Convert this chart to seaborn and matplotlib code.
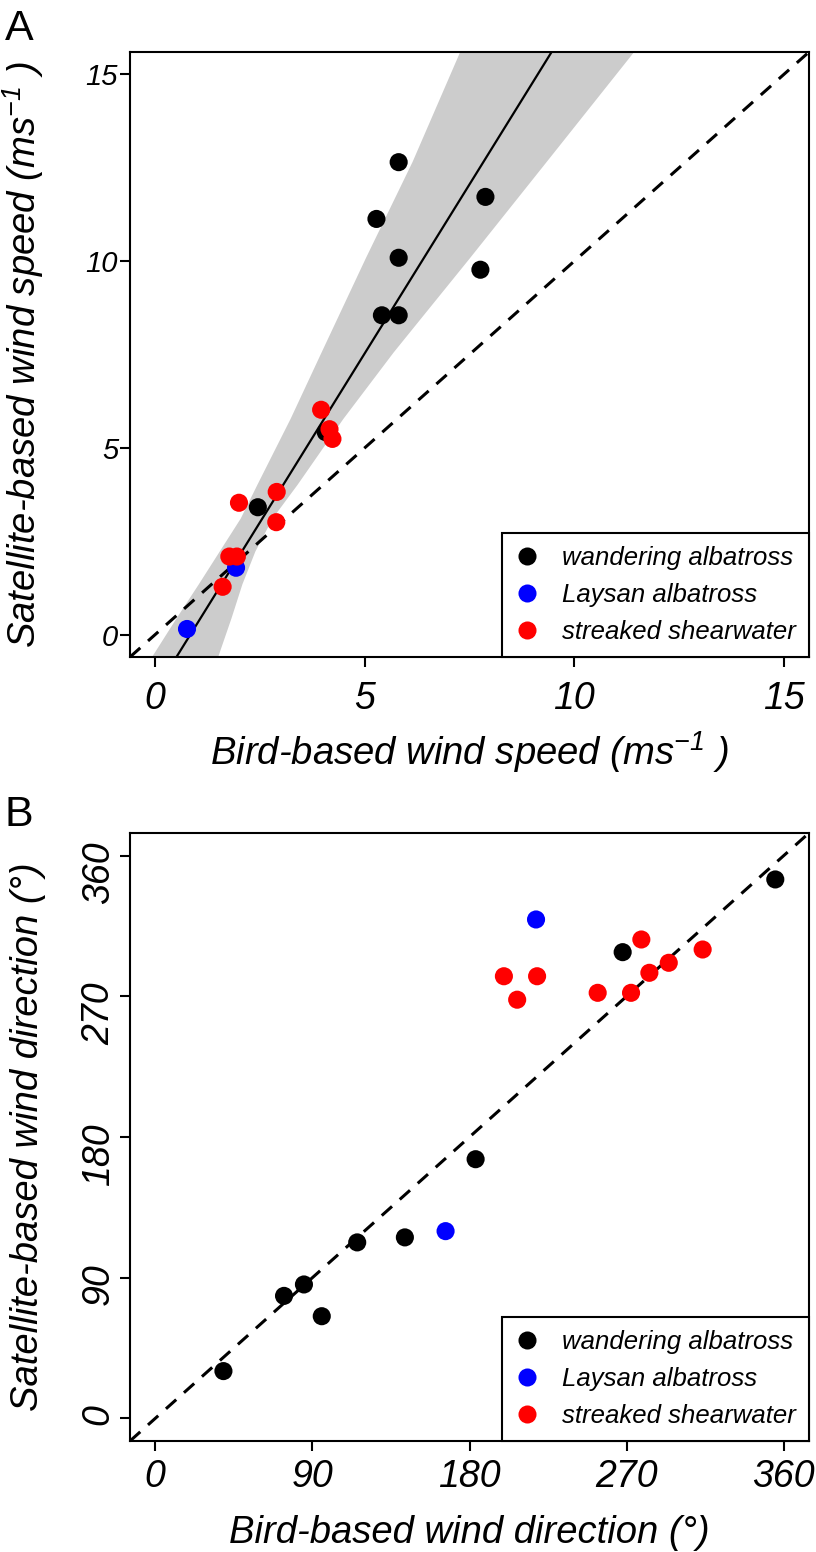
import numpy as np
import pandas as pd
import matplotlib
matplotlib.use('Agg')
import matplotlib.pyplot as plt
from matplotlib.lines import Line2D
import seaborn as sns

species_order = ['wandering albatross', 'Laysan albatross', 'streaked shearwater']
species_colors = ['#000000', '#0000FF', '#FF0000']

# Panel A: wind speed (m/s), bird-based vs satellite-based
speed_bird_wa = [5.81, 5.28, 7.88, 5.81, 7.76, 5.41, 5.81, 2.45, 4.07]
speed_sat_wa = [12.65, 11.13, 11.72, 10.09, 9.77, 8.55, 8.55, 3.41, 5.42]
speed_bird_la = [1.93, 0.76]
speed_sat_la = [1.79, 0.15]
speed_bird_ss = [3.96, 4.16, 4.23, 2.90, 2.00, 2.89, 1.77, 1.95, 1.61]
speed_sat_ss = [6.02, 5.50, 5.24, 3.82, 3.53, 3.01, 2.09, 2.09, 1.28]

# fitted line and its confidence band
fit_x = [0.0, 10.0]
fit_y = [-1.52, 16.58]
band_y = [15.84, 15.52, 12.67, 10.08, 7.57, 5.79, 4.03, 3.12, 2.24, 1.36, 0.45, -0.56, -0.83]
band_left = [7.35, 7.23, 6.13, 5.01, 3.96, 3.22, 2.43, 2.03, 1.53, 1.03, 0.50, -0.07, -0.24]
band_right = [11.57, 11.35, 9.33, 7.49, 5.68, 4.48, 3.39, 2.79, 2.38, 2.07, 1.81, 1.50, 1.43]

# Panel B: wind direction (degrees)
dir_bird_wa = [355.1, 267.7, 183.5, 143.0, 115.7, 85.2, 73.8, 95.4, 39.1]
dir_sat_wa = [344.7, 298.2, 165.8, 115.8, 112.6, 85.7, 78.4, 65.4, 30.3]
dir_bird_la = [218.1, 166.3]
dir_sat_la = [319.1, 119.8]
dir_bird_ss = [199.7, 218.7, 207.3, 278.4, 313.5, 294.1, 283.0, 253.4, 272.5]
dir_sat_ss = [282.8, 282.8, 267.8, 306.3, 299.9, 291.4, 285.0, 272.2, 272.2]

speed_ticks = [0, 5, 10, 15]
dir_ticks = [0, 90, 180, 270, 360]


def make_frame(groups):
    rows = []
    for name, xs, ys in groups:
        for x, y in zip(xs, ys):
            rows.append({'bird': x, 'sat': y, 'species': name})
    return pd.DataFrame(rows)


df_speed = make_frame([
    (species_order[0], speed_bird_wa, speed_sat_wa),
    (species_order[1], speed_bird_la, speed_sat_la),
    (species_order[2], speed_bird_ss, speed_sat_ss),
])
df_dir = make_frame([
    (species_order[0], dir_bird_wa, dir_sat_wa),
    (species_order[1], dir_bird_la, dir_sat_la),
    (species_order[2], dir_bird_ss, dir_sat_ss),
])

sns.set_theme(style='ticks')
plt.rcParams['font.family'] = ['Liberation Sans', 'DejaVu Sans']
plt.rcParams['font.style'] = 'italic'
plt.rcParams['mathtext.fontset'] = 'custom'
plt.rcParams['mathtext.rm'] = 'Liberation Sans:italic'
plt.rcParams['mathtext.it'] = 'Liberation Sans:italic'
for key in ['text.color', 'axes.labelcolor', 'xtick.color', 'ytick.color', 'axes.edgecolor']:
    plt.rcParams[key] = 'black'

W, H = 816, 1552
fig = plt.figure(figsize=(W / 100, H / 100), dpi=100)
axA = fig.add_axes([130 / W, 1 - 657 / H, 679 / W, 605 / H])
axB = fig.add_axes([130 / W, 1 - 1441 / H, 679 / W, 608 / H])

palette = dict(zip(species_order, species_colors))


def style_axes(ax, lim, ticks):
    ax.set_xlim(lim)
    ax.set_ylim(lim)
    ax.set_xticks(ticks)
    ax.set_yticks(ticks)
    for sp in ax.spines.values():
        sp.set_visible(True)
        sp.set_color('black')
        sp.set_linewidth(1.5)
    ax.tick_params(axis='both', direction='out', length=7.5, width=1.5, color='black')
    ax.axline((0, 0), slope=1, color='black', lw=2.2, dashes=(4.5, 3.4), zorder=2)
    handles = [Line2D([], [], marker='o', ls='none', markersize=13,
                      markerfacecolor=c, markeredgecolor='none') for c in species_colors]
    leg = ax.legend(handles, species_order, loc='lower right', borderaxespad=0,
                    frameon=True, fancybox=False, edgecolor='black', framealpha=1,
                    fontsize=18.5, handlelength=1.0, handletextpad=0.86,
                    labelspacing=0.51, borderpad=0.5)
    leg.get_frame().set_linewidth(1.5)


# ---- Panel A
speed_lim = (-0.6, 15.6)
axA.fill_betweenx(band_y, band_left, band_right, color='#CCCCCC', lw=0, zorder=1)
sns.lineplot(x=fit_x, y=fit_y, ax=axA, color='black', lw=1.6, zorder=3)
sns.scatterplot(data=df_speed, x='bird', y='sat', hue='species', palette=palette,
                s=170, edgecolor='none', legend=False, ax=axA, zorder=4)
style_axes(axA, speed_lim, speed_ticks)
axA.tick_params(axis='x', labelsize=27, pad=10)
axA.tick_params(axis='y', labelsize=21, pad=1)
axA.set_xlabel(r'Bird-based wind speed (ms$^{-1}$ )', fontsize=27.5)
axA.set_ylabel(r'Satellite-based wind speed (ms$^{-1}$ )', fontsize=27.5)
axA.xaxis.set_label_coords(0.5, -0.119)
axA.yaxis.set_label_coords(-0.124, 0.5)

# ---- Panel B
dir_lim = (-14.4, 374.4)
sns.scatterplot(data=df_dir, x='bird', y='sat', hue='species', palette=palette,
                s=170, edgecolor='none', legend=False, ax=axB, zorder=4)
style_axes(axB, dir_lim, dir_ticks)
axB.tick_params(axis='x', labelsize=27, pad=5.8)
axB.tick_params(axis='y', labelsize=27, pad=2, labelrotation=90)
axB.set_xlabel('Bird-based wind direction (°)', fontsize=27.5)
axB.set_ylabel('Satellite-based wind direction (°)', fontsize=27.5)
axB.xaxis.set_label_coords(0.5, -0.122)
axB.yaxis.set_label_coords(-0.124, 0.5)

fig.text(5 / W, 1 - 9 / H, 'A', fontsize=31, fontstyle='normal', va='top', ha='left')
fig.text(5 / W, 1 - 795 / H, 'B', fontsize=31, fontstyle='normal', va='top', ha='left')

fig.savefig('out.png', dpi=100)
